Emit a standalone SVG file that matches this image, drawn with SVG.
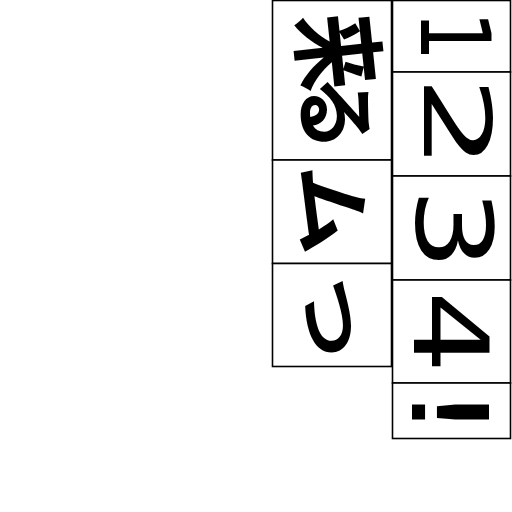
<svg xmlns="http://www.w3.org/2000/svg" width="512" height="512" viewBox="0 0 512 512">
<style>
.cell{fill:#fff;stroke:#000;stroke-width:1.6}
.d{font-family:"DejaVu Sans",sans-serif;font-size:100px;text-anchor:middle;dominant-baseline:central;fill:#000}
.j{font-family:"Noto Sans CJK JP",sans-serif;font-weight:700;font-size:82px;text-anchor:middle;dominant-baseline:central;fill:#000}
</style>
<rect width="512" height="512" fill="#fff"/>
<g id="cells-left">
<g id="n-rai"><rect class="cell" x="272.5" y="0.5" width="119" height="159.5"/>
<text class="j" transform="translate(343.5,50.5) rotate(84) scale(0.94,1.16)">来</text>
<text class="j" transform="translate(341,113.3) rotate(90) scale(0.92,1)">る</text></g>
<g id="n-mu"><rect class="cell" x="272.5" y="160" width="119" height="103.5"/>
<text class="j" transform="translate(337.5,209.3) rotate(88) scale(1.11,0.98)">ム</text></g>
<g id="n-tsu"><rect class="cell" x="272.5" y="263.5" width="119" height="103"/>
<text class="j" transform="translate(335.8,317.5) rotate(90) scale(1,0.81)">つ</text></g>
</g>
<g id="cells-right">
<g id="n-1"><rect class="cell" x="392.5" y="0.5" width="118" height="71.5"/>
<text class="d" transform="translate(454.5,36) rotate(90) scale(0.8,0.97)">1</text></g>
<g id="n-2"><rect class="cell" x="392.5" y="72" width="118" height="104"/>
<text class="d" transform="translate(456,123) rotate(90) scale(1.5,0.93)">2</text></g>
<g id="n-3"><rect class="cell" x="392.5" y="176" width="118" height="104"/>
<text class="d" transform="translate(452,229) rotate(90) scale(1.3,1.05)">3</text></g>
<g id="n-4"><rect class="cell" x="392.5" y="280" width="118" height="103"/>
<text class="d" transform="translate(450,332) rotate(90) scale(1.3,1.03)">4</text></g>
<g id="n-5"><rect class="cell" x="392.5" y="383" width="118" height="55.5"/>
<text class="d" transform="translate(448,412) rotate(90) scale(1.5,1.05)">!</text></g>
</g>
</svg>
